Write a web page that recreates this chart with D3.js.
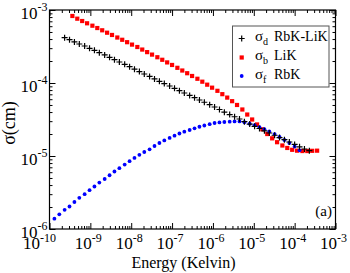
<!DOCTYPE html>
<html>
<head>
<meta charset="utf-8">
<script src="https://cdn.jsdelivr.net/npm/d3@7"></script>
<style>
  body { margin: 0; background: #fff; }
</style>
</head>
<body>
<div id="chart"></div>
<script>
// values, stored as log10(E) and log10(sigma)
var logEnergyD = [-9.63, -9.51, -9.39, -9.27, -9.14, -9.02, -8.90, -8.78, -8.65, -8.53,
  -8.41, -8.29, -8.16, -8.04, -7.92, -7.80, -7.68, -7.55, -7.43, -7.31,
  -7.19, -7.06, -6.94, -6.82, -6.70, -6.57, -6.45, -6.33, -6.21, -6.08,
  -5.96, -5.84, -5.72, -5.59, -5.47, -5.35, -5.23, -5.10, -4.98, -4.86,
  -4.74, -4.62, -4.49, -4.37, -4.25, -4.13, -4.00, -3.88, -3.76, -3.64];
var logSigmaD = [-3.379, -3.407, -3.438, -3.466, -3.493, -3.525, -3.552, -3.585, -3.616, -3.648,
  -3.681, -3.712, -3.744, -3.777, -3.811, -3.844, -3.877, -3.910, -3.944, -3.977,
  -4.008, -4.041, -4.073, -4.105, -4.137, -4.170, -4.201, -4.233, -4.264, -4.297,
  -4.329, -4.363, -4.400, -4.432, -4.462, -4.493, -4.530, -4.562, -4.593, -4.623,
  -4.655, -4.685, -4.716, -4.747, -4.777, -4.808, -4.842, -4.874, -4.904, -4.927];

var logEnergyB = [-9.44, -9.32, -9.20, -9.08, -8.95, -8.83, -8.71, -8.59, -8.47, -8.34,
  -8.22, -8.10, -7.98, -7.85, -7.73, -7.61, -7.49, -7.36, -7.24, -7.12,
  -7.00, -6.87, -6.75, -6.63, -6.51, -6.38, -6.26, -6.14, -6.02, -5.89,
  -5.77, -5.65, -5.53, -5.41, -5.28, -5.16, -5.04, -4.92, -4.79, -4.67,
  -4.55, -4.43, -4.30, -4.18, -4.06, -3.94, -3.81, -3.69, -3.57, -3.45];
var logSigmaB = [-3.082, -3.119, -3.151, -3.182, -3.215, -3.247, -3.278, -3.311, -3.342, -3.377,
  -3.408, -3.441, -3.474, -3.507, -3.542, -3.577, -3.611, -3.647, -3.682, -3.718,
  -3.753, -3.792, -3.829, -3.866, -3.904, -3.942, -3.982, -4.023, -4.064, -4.107,
  -4.153, -4.200, -4.249, -4.301, -4.363, -4.432, -4.500, -4.568, -4.634, -4.699,
  -4.758, -4.811, -4.856, -4.890, -4.915, -4.927, -4.932, -4.932, -4.929, -4.927];

var logEnergyF = [-9.88, -9.76, -9.63, -9.51, -9.39, -9.27, -9.14, -9.02, -8.90, -8.78,
  -8.65, -8.53, -8.41, -8.29, -8.16, -8.04, -7.92, -7.80, -7.68, -7.55,
  -7.43, -7.31, -7.19, -7.06, -6.94, -6.82, -6.70, -6.57, -6.45, -6.33,
  -6.21, -6.08, -5.96, -5.84, -5.72, -5.59, -5.47, -5.35, -5.23, -5.10,
  -4.98, -4.86, -4.74, -4.62, -4.49, -4.37, -4.25, -4.13, -4.00, -3.88];
var logSigmaF = [-5.859, -5.799, -5.737, -5.692, -5.630, -5.573, -5.523, -5.468, -5.418, -5.364,
  -5.315, -5.264, -5.212, -5.167, -5.118, -5.071, -5.027, -4.984, -4.945, -4.908,
  -4.863, -4.822, -4.786, -4.753, -4.722, -4.692, -4.667, -4.644, -4.621, -4.599,
  -4.582, -4.564, -4.548, -4.540, -4.534, -4.530, -4.526, -4.526, -4.538, -4.558,
  -4.579, -4.605, -4.633, -4.664, -4.699, -4.740, -4.781, -4.822, -4.870, -4.922];

var xDecades = [-10, -9, -8, -7, -6, -5, -4, -3];
var yDecades = [-6, -5, -4, -3];
var legendNames = [['d', 'RbK-LiK'], ['b', 'LiK'], ['f', 'RbK']];

var width = 350, height = 273;
var margins = {left: 49.5, right: 14.5, top: 10, bottom: 44};
var serif = '"Liberation Serif", "Times New Roman", Times, serif';

var svg = d3.select('#chart').append('svg')
  .attr('width', width)
  .attr('height', height)
  .attr('font-family', serif);

var x = d3.scaleLog().domain([1e-10, 1e-3]).range([margins.left, width - margins.right]);
var y = d3.scaleLog().domain([1e-6, 1e-3]).range([height - margins.bottom, margins.top]);

function pairs(le, ls) {
  return le.map(function(e, i) { return [Math.pow(10, e), Math.pow(10, ls[i])]; });
}

// minor + major ticks on all four sides, pointing in
var plotW = width - margins.left - margins.right;
var plotH = height - margins.top - margins.bottom;
var minorX = x.ticks().filter(function(t) { return Math.abs(Math.log10(t) % 1) > 1e-6; });
var minorY = y.ticks().filter(function(t) { return Math.abs(Math.log10(t) % 1) > 1e-6; });
var majorX = xDecades.map(function(d) { return Math.pow(10, d); });
var majorY = yDecades.map(function(d) { return Math.pow(10, d); });

function drawAxis(axisFn, scale, vals, size, transform) {
  var g = svg.append('g').attr('transform', transform)
    .call(axisFn(scale).tickValues(vals).tickSize(-size).tickFormat(''));
  g.select('.domain').remove();
  g.selectAll('line').attr('stroke', '#000').attr('stroke-width', 1);
  return g;
}
var bottomT = 'translate(0,' + (height - margins.bottom) + ')';
var topT = 'translate(0,' + margins.top + ')';
var leftT = 'translate(' + margins.left + ',0)';
var rightT = 'translate(' + (width - margins.right) + ',0)';
drawAxis(d3.axisBottom, x, minorX, 3, bottomT);
drawAxis(d3.axisBottom, x, majorX, 6, bottomT);
drawAxis(d3.axisTop, x, minorX, 3, topT);
drawAxis(d3.axisTop, x, majorX, 6, topT);
drawAxis(d3.axisLeft, y, minorY, 3, leftT);
drawAxis(d3.axisLeft, y, majorY, 6, leftT);
drawAxis(d3.axisRight, y, minorY, 3, rightT);
drawAxis(d3.axisRight, y, majorY, 6, rightT);

svg.append('rect')
  .attr('x', margins.left).attr('y', margins.top)
  .attr('width', plotW).attr('height', plotH)
  .attr('fill', 'none').attr('stroke', '#000').attr('stroke-width', 1.2);

// tick labels with superscript exponents
var xl = svg.append('g').selectAll('text').data(xDecades).enter().append('text')
  .attr('x', function(d, i) { return x(Math.pow(10, d)) - (i === 0 ? 10 : 2); })
  .attr('y', height - margins.bottom + 20)
  .attr('text-anchor', 'middle')
  .attr('font-family', serif)
  .style('font-size', '17px');
xl.append('tspan').text('10');
xl.append('tspan').attr('dy', -7).style('font-size', '12px').text(function(d) { return '-' + Math.abs(d); });

var yl = svg.append('g').selectAll('text').data(yDecades).enter().append('text')
  .attr('x', margins.left - 2)
  .attr('y', function(d) { return y(Math.pow(10, d)) + 9; })
  .attr('text-anchor', 'end')
  .attr('font-family', serif)
  .style('font-size', '17px');
yl.append('tspan').text('10');
yl.append('tspan').attr('dy', -8).style('font-size', '12px').text(function(d) { return '-' + Math.abs(d); });

svg.append('text')
  .attr('x', 183.5).attr('y', 268)
  .attr('text-anchor', 'middle')
  .attr('font-family', serif)
  .style('font-size', '16px')
  .text('Energy (Kelvin)');

svg.append('text')
  .attr('transform', 'translate(15,123) rotate(-90)')
  .attr('text-anchor', 'middle')
  .attr('font-family', serif)
  .style('font-size', '18px')
  .text('σ(cm)');

svg.append('text')
  .attr('x', 332).attr('y', 216)
  .attr('text-anchor', 'end')
  .attr('font-family', serif)
  .style('font-size', '15px')
  .text('(a)');

// series
var dataD = pairs(logEnergyD, logSigmaD);
var dataB = pairs(logEnergyB, logSigmaB);
var dataF = pairs(logEnergyF, logSigmaF);

var marks = svg.append('g');
marks.selectAll('rect.b').data(dataB).enter().append('rect').classed('b', true)
  .attr('x', function(d) { return x(d[0]) - 2.1; })
  .attr('y', function(d) { return y(d[1]) - 2.1; })
  .attr('width', 4.2).attr('height', 4.2)
  .attr('fill', '#ff0000');

marks.selectAll('circle.f').data(dataF).enter().append('circle').classed('f', true)
  .attr('cx', function(d) { return x(d[0]); })
  .attr('cy', function(d) { return y(d[1]); })
  .attr('r', 1.9)
  .attr('fill', '#0000ff');

var crossPath = function(cx, cy, s) {
  return 'M' + (cx - s) + ',' + cy + 'H' + (cx + s) + 'M' + cx + ',' + (cy - s) + 'V' + (cy + s);
};
marks.selectAll('path.d').data(dataD).enter().append('path').classed('d', true)
  .attr('d', function(d) { return crossPath(x(d[0]), y(d[1]), 3); })
  .attr('stroke', '#000').attr('stroke-width', 1.2).attr('fill', 'none');

// legend
var legend = svg.append('g');
legend.append('rect')
  .attr('x', 232.5).attr('y', 26).attr('width', 96.5).attr('height', 61)
  .attr('fill', '#fff').attr('stroke', '#555').attr('stroke-width', 1);
var rowY = [38.5, 57.5, 76];
legend.append('path').attr('d', crossPath(241.7, rowY[0], 3))
  .attr('stroke', '#000').attr('stroke-width', 1.2);
legend.append('rect').attr('x', 239.6).attr('y', rowY[1] - 2.1).attr('width', 4.2).attr('height', 4.2)
  .attr('fill', '#ff0000');
legend.append('circle').attr('cx', 241.7).attr('cy', rowY[2]).attr('r', 1.9).attr('fill', '#0000ff');

var lt = legend.selectAll('text.lg').data(legendNames).enter().append('text').classed('lg', true)
  .attr('x', 255)
  .attr('y', function(d, i) { return rowY[i] + 2.5; })
  .attr('font-family', serif)
  .style('font-size', '14px');
lt.append('tspan').style('font-size', '15px').text('σ');
lt.append('tspan').attr('dy', 4).style('font-size', '10px').text(function(d) { return d[0]; });
lt.append('tspan').attr('x', 274).attr('dy', -4).text(function(d) { return d[1]; });
</script>
</body>
</html>
